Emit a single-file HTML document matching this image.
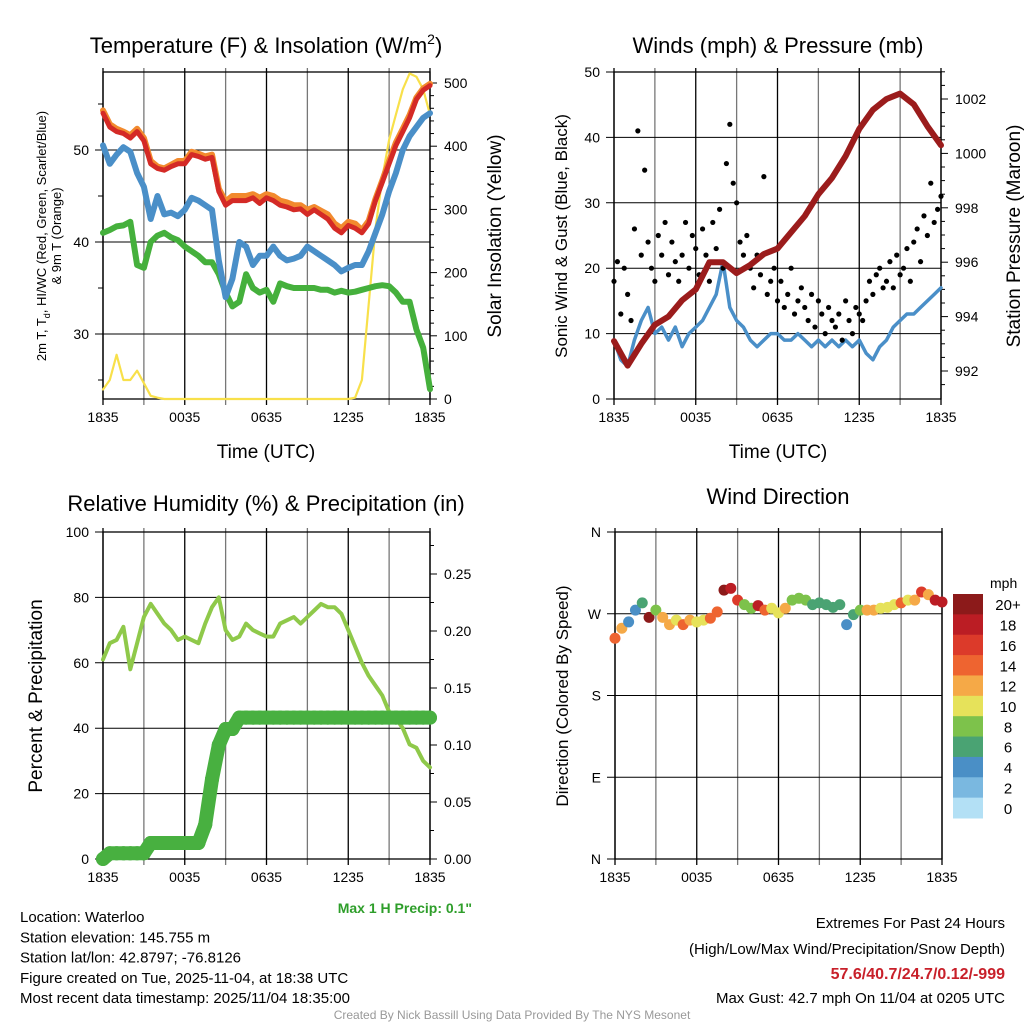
<!DOCTYPE html>
<html><head><meta charset="utf-8"><style>
body{margin:0;background:#fff;}
svg text{font-family:"Liberation Sans",Arial,sans-serif;fill:#000;}
</style></head><body>
<svg id="c" width="1024" height="1024" xmlns="http://www.w3.org/2000/svg"></svg>
<script>
const hours30 = [0,0.5,1,1.5,2,2.5,3,3.5,4,4.5,5,5.5,6,6.5,7,7.5,8,8.5,9,9.5,10,10.5,11,11.5,12,12.5,13,13.5,14,14.5,15,15.5,16,16.5,17,17.5,18,18.5,19,19.5,20,20.5,21,21.5,22,22.5,23,23.5,24];
const xTickLabels = ["1835","0035","0635","1235","1835"];
const tempT = [54,52.5,52,51.8,51.3,52,51,48.5,48,47.8,48.2,48.5,48.5,49.5,49.3,49,49.2,45.5,44,44.5,44.5,44.5,44.8,44.2,44.8,44.5,44,43.8,43.5,43.6,43,43.5,43,42.5,41.5,41,41.8,41.5,41,42,44.5,46.5,48.5,50.5,52,53.5,55.5,56.5,57];
const temp9m = [54.3,52.8,52.3,52,51.6,52.3,51.3,48.8,48.2,48,48.4,48.8,48.8,49.8,49.6,49.3,49.5,45.8,44.4,45,45,45,45.2,44.8,45.2,45,44.5,44.3,44,44,43.5,43.8,43.4,43,42,41.5,42.2,42,41.3,42.3,44.7,46.7,48.8,50.8,52.3,53.8,55.7,56.7,57.2];
const windChill = [50.5,48.5,49.5,50.3,49.8,47.5,46,42.5,45,43,43.2,42.8,43.5,44.8,44.5,44,43.5,38,34,36,40,39.5,37.5,38.5,38.5,39.5,38.5,38,38.2,38.5,39.5,39,38.5,38,37.5,36.8,37.2,37.5,37.5,39,41,43,45.5,47.5,50,51.5,52.5,53.5,54];
const dewPoint = [41,41.3,41.7,41.8,42.2,37.5,37.2,40,40.7,41,40.5,40.2,39.5,39,38.5,37.8,37.8,36.5,34.5,33,33.5,36.5,35,34.5,34.8,33.5,35.5,35.2,35,35,35,35,34.8,34.8,34.5,34.7,34.5,34.6,34.8,35,35.2,35.3,35.2,34.5,33.5,33.5,30.5,28.5,24];
const insolation = [15,30,70,30,30,45,25,5,2,0,0,0,0,0,0,0,0,0,0,0,0,0,0,0,0,0,0,0,0,0,0,0,0,0,0,0,0,2,30,150,270,350,410,450,490,515,510,490,450];
const pressure = [993.1,992.2,993,993.7,994,994.6,995,996,996,995.6,995.9,996.3,996.5,997.1,997.7,998.5,999.1,999.9,1000.9,1001.6,1002,1002.2,1001.8,1001,1000.3];
const windSpeed = [9,6,5,9,12,14,10,11,9,11,8,10,11,12,14,16,21,14,12,11,9,8,9,10,10,9,9,10,9,8,9,8,9,8,9,8,9,7,6,8,9,11,12,13,13,14,15,16,17];
const windGust = [18,21,13,20,16,12,26,41,22,35,24,20,18,25,22,27,19,24,21,18,22,27,20,25,23,19,26,22,18,27,23,29,20,36,42,33,30,24,22,25,20,17,22,19,34,16,18,20,15,18,14,16,20,13,15,17,14,12,16,11,15,13,10,14,12,11,13,9,15,12,10,14,13,12,15,18,16,19,20,17,18,21,17,22,19,20,23,18,24,26,21,28,25,33,27,29,31];
const relHum = [61,66,67,71,58,66,74,78,75,72,70,67,68,67,66,72,77,80,70,67,68,72,70,69,68,68,72,73,74,72,74,76,78,77,77,75,70,65,60,56,53,50,45,43,40,35,34,30,28];
const precip = [0,0.005,0.005,0.005,0.005,0.005,0.005,0.014,0.014,0.014,0.014,0.014,0.014,0.014,0.014,0.03,0.07,0.1,0.114,0.114,0.124,0.124,0.124,0.124,0.124,0.124,0.124,0.124,0.124,0.124,0.124,0.124,0.124,0.124,0.124,0.124,0.124,0.124,0.124,0.124,0.124,0.124,0.124,0.124,0.124,0.124,0.124,0.124,0.124];
const windDir = [243,254,261,274,282,266,274,266,258,263,258,263,261,263,265,272,296,298,285,280,276,279,274,276,271,276,285,287,285,280,282,280,277,280,258,269,274,274,274,276,277,280,282,285,285,294,291,285,283];
const dirSpeed = [14,12,5,4,6,20,8,12,12,10,14,12,11,10,14,14,20,18,16,9,8,18,14,10,10,12,9,8,8,7,7,6,6,6,4,7,8,12,12,11,11,10,14,10,12,16,12,18,18];
const cbLabels = ["20+","18","16","14","12","10","8","6","4","2","0"];
const cbColors = ["#8c1a1a","#bb1d24","#dc3a2a","#ee6430","#f5a947","#e6e25a","#7dc24b","#4aa373","#4a8fc6","#7ab8e0","#b3e0f5"];

const NS="http://www.w3.org/2000/svg";
const svg=document.getElementById('c');
function el(tag,attrs,parent,txt){const e=document.createElementNS(NS,tag);for(const k in attrs)e.setAttribute(k,attrs[k]);if(txt!==undefined)e.textContent=txt;(parent||svg).appendChild(e);return e;}
function scale(d0,d1,r0,r1){return v=>r0+(v-d0)*(r1-r0)/(d1-d0);}

function frame(x0,x1,y0,y1,name){
  const g=el('g',{});
  
  
  const xs=scale(0,24,x0,x1);
  for(let h=0;h<=24;h+=3){
    const ln=el('line',{x1:xs(h),x2:xs(h),y1:y0-4,y2:y1+6,stroke:h%6?'#777':'#000','stroke-width':1.3},g);
    
    
  }
  xTickLabels.forEach((t,i)=>{
    const tx=el('text',{x:xs(i*6),y:y1+23,'font-size':14,'text-anchor':'middle'},g,t);
    
    
  });
  el('rect',{x:x0,y:y0,width:x1-x0,height:y1-y0,fill:'none',stroke:'#000','stroke-width':1.3},g);
  return {g,xs};
}
function hline(g,x0,x1,y,lab,side,name){
  const ln=el('line',{x1:x0-8,x2:x1,y1:y,y2:y,stroke:'#000','stroke-width':1},g);
  
  
  if(lab!==null){const t=el('text',{x:x0-14,y:y+5,'font-size':14,'text-anchor':'end'},g,lab);
  
  }
}
function rtick(g,x1,y,lab,name,len){
  el('line',{x1:x1,x2:x1+(len||7),y1:y,y2:y,stroke:'#000','stroke-width':1},g);
  if(lab!==null){const t=el('text',{x:x1+14,y:y+5,'font-size':14},g,lab);
  
  }
}
function poly(g,xs,ys,xv,yv,color,w,name){
  const pts=xv.map((x,i)=>xs(x).toFixed(1)+','+ys(yv[i]).toFixed(1)).join(' ');
  const p=el('polyline',{points:pts,fill:'none',stroke:color,'stroke-width':w,'stroke-linejoin':'round','stroke-linecap':'round'},g);
  
  
}
function title(x,y,txt,size,name,rot){
  const a={x:x,y:y,'font-size':size,'text-anchor':'middle'};
  if(rot)a.transform='rotate(-90 '+x+' '+y+')';
  const t=el('text',a,svg,txt);
  
  
  return t;
}

// Panel 1: Temperature
(function(){
  const x0=103,x1=430,y0=72,y1=399;
  const f=frame(x0,x1,y0,y1,'temperature-panel');const g=f.g,xs=f.xs;
  const ys=scale(30,50,334,150);const yr=scale(0,500,399,83);
  [30,40,50].forEach(v=>hline(g,x0,x1,ys(v),String(v),'l','temp-y-tick'));
  [25,35,45,55].forEach(v=>el('line',{x1:x0-5,x2:x0,y1:ys(v),y2:ys(v),stroke:'#000'},g));
  for(let v=0;v<=500;v+=20)rtick(g,x1,yr(v),v%100?null:String(v),'insolation-tick',v%100?4:7);
  poly(g,xs,yr,hours30,insolation,'#f8e04a',2.2,'insolation-line');
  poly(g,xs,ys,hours30,dewPoint,'#45b03c',6,'dewpoint-line');
  poly(g,xs,ys,hours30,windChill,'#4a8fc8',6,'windchill-line');
  poly(g,xs,ys,hours30,temp9m,'#f28a2e',6,'temp-9m-line');
  poly(g,xs,ys,hours30,tempT,'#d42a26',5,'temp-2m-line');
  const t=title(266,53,'',22,'temperature-title');
  t.innerHTML='Temperature (F) &amp; Insolation (W/m<tspan dy="-9" font-size="14">2</tspan><tspan dy="9">)</tspan>';
  title(266,458,'Time (UTC)',19,'temp-x-axis-title');
  const a=title(46,236,'',13,'temp-y-axis-title',true);
  a.innerHTML='2m T, T<tspan dy="4" font-size="9">d</tspan><tspan dy="-4">, HI/WC (Red, Green, Scarlet/Blue)</tspan>';
  title(61,236,'& 9m T (Orange)',13,'temp-y-axis-title-2',true);
  title(501,236,'Solar Insolation (Yellow)',19,'insolation-axis-title',true);
})();

// Panel 2: Winds
(function(){
  const x0=614,x1=941,y0=72,y1=399;
  const f=frame(x0,x1,y0,y1,'winds-panel');const g=f.g,xs=f.xs;
  const ys=scale(0,50,399,72);const yp=scale(992,1002,371,99);
  [0,10,20,30,40,50].forEach(v=>hline(g,x0,x1,ys(v),String(v),'l','wind-y-tick'));
  for(let v=991.5;v<=1003;v+=0.5){const major=(v%2===0);rtick(g,x1,yp(v),major?String(v):null,'pressure-tick',major?7:4);}
  const hours15=windGust.map((_,i)=>i*0.25);
  poly(g,xs,ys,hours30,windSpeed,'#4a8fc8',3.5,'wind-speed-line');
  windGust.forEach((v,i)=>{const c=el('circle',{cx:xs(hours15[i]),cy:ys(v),r:2.6,fill:'#000'},g);
    
    });
  poly(g,xs,yp,hours30.filter((h,i)=>i%2===0),pressure,'#9b1c1c',6,'pressure-line');
  title(778,53,'Winds (mph) & Pressure (mb)',22,'winds-title');
  title(778,458,'Time (UTC)',19,'winds-x-axis-title');
  title(567,236,'Sonic Wind & Gust (Blue, Black)',17,'wind-y-axis-title',true);
  title(1020,236,'Station Pressure (Maroon)',19,'pressure-axis-title',true);
})();

// Panel 3: RH & precip
(function(){
  const x0=103,x1=430,y0=532,y1=859;
  const f=frame(x0,x1,y0,y1,'humidity-panel');const g=f.g,xs=f.xs;
  const ys=scale(0,100,859,532);const yp=scale(0,0.25,859,574);
  [0,20,40,60,80,100].forEach(v=>hline(g,x0,x1,ys(v),String(v),'l','rh-y-tick'));
  for(let v=0;v<=0.275;v+=0.025){const major=Math.round(v*1000)%50===0;rtick(g,x1,yp(v),major?v.toFixed(2):null,'precip-tick',major?7:4);}
  poly(g,xs,ys,hours30,relHum,'#8fc94a',4,'rh-line');
  precip.forEach((v,i)=>{const c=el('circle',{cx:xs(hours30[i]),cy:yp(v),r:7,fill:'#48b040'},g);
    
    });
  for(let i=0;i<precip.length-1;i++){const l=el('line',{x1:xs(hours30[i]),y1:yp(precip[i]),x2:xs(hours30[i+1]),y2:yp(precip[i+1]),stroke:'#48b040','stroke-width':14,'stroke-linecap':'round'},g);}
  title(266,511,'Relative Humidity (%) & Precipitation (in)',22,'humidity-title');
  title(42,696,'Percent & Precipitation',19,'rh-y-axis-title',true);
  const m=el('text',{x:472,y:913,'font-size':14,'font-weight':'bold','text-anchor':'end',style:'fill:#2e9e2a'},svg,'Max 1 H Precip: 0.1"');
  
  
})();

// Panel 4: Wind direction
(function(){
  const x0=615,x1=942,y0=532,y1=859;
  const f=frame(x0,x1,y0,y1,'wind-direction-panel');const g=f.g,xs=f.xs;
  const ys=scale(0,360,859,532);
  [[360,'N'],[270,'W'],[180,'S'],[90,'E'],[0,'N']].forEach(a=>hline(g,x0,x1,ys(a[0]),a[1],'l','direction-tick'));
  function col(s){let k=Math.min(10,Math.floor(s/2));return cbColors[10-k];}
  windDir.forEach((d,i)=>{const c=el('circle',{cx:xs(hours30[i]),cy:ys(d),r:5.5,fill:col(dirSpeed[i])},g);
    
    });
  title(778,504,'Wind Direction',22,'wind-direction-title');
  title(568,696,'Direction (Colored By Speed)',17,'direction-y-axis-title',true);
  const cb=el('g',{});
  
  
  const bh=(818-594)/cbColors.length;
  cbColors.forEach((c,i)=>{el('rect',{x:953,y:594+i*bh,width:30,height:bh+0.5,fill:c},cb);
    const t=el('text',{x:1008,y:594+i*bh+bh/2+6,'font-size':15,'text-anchor':'middle'},cb,cbLabels[i]);
    
    });
  const u=el('text',{x:990,y:588,'font-size':14},cb,'mph');
  
  
})();

// Footer text
const leftLines=['Location: Waterloo','Station elevation: 145.755 m','Station lat/lon: 42.8797; -76.8126','Figure created on Tue, 2025-11-04, at 18:38 UTC','Most recent data timestamp: 2025/11/04 18:35:00'];
leftLines.forEach((s,i)=>{const t=el('text',{x:20,y:922+i*20.3,'font-size':15},svg,s);
  
  });
const rl=[['Extremes For Past 24 Hours',928,'#000',''],['(High/Low/Max Wind/Precipitation/Snow Depth)',954,'#000',''],['57.6/40.7/24.7/0.12/-999',979,'#c8202a','bold'],['Max Gust: 42.7 mph On 11/04 at 0205 UTC',1003,'#000','']];
rl.forEach(r=>{const t=el('text',{x:1005,y:r[1],'font-size':r[3]?16:15,'text-anchor':'end','font-weight':r[3]||'normal',style:'fill:'+r[2]},svg,r[0]);
  
  });
const cr=el('text',{x:512,y:1019,'font-size':12,'text-anchor':'middle',style:'fill:#999'},svg,'Created By Nick Bassill Using Data Provided By The NYS Mesonet');


</script>
</body></html>
